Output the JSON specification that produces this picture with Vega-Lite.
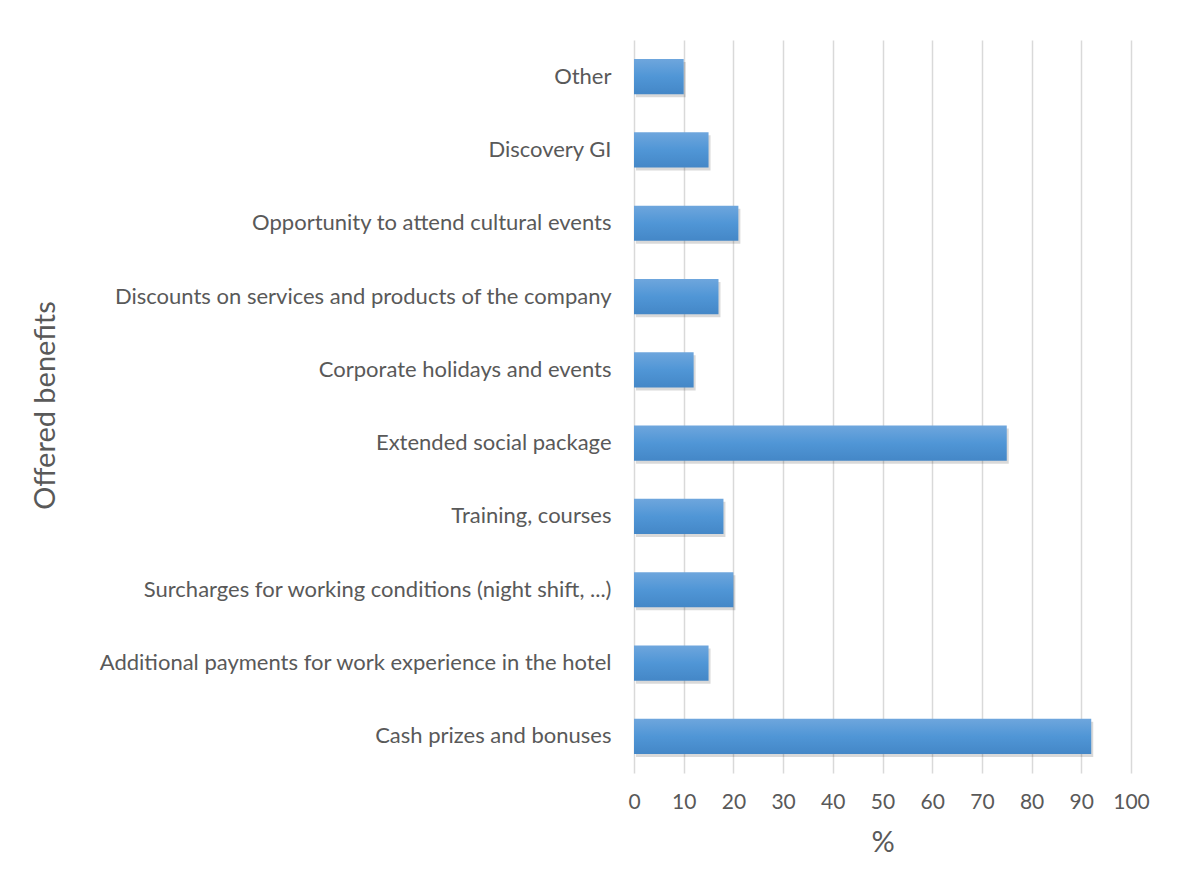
{
  "$schema": "https://vega.github.io/schema/vega-lite/v6.json",
  "width": 497,
  "height": 733,
  "autosize": {"type": "none"},
  "padding": {"left": 634, "top": 40, "right": 46, "bottom": 117},
  "background": "white",
  "config": {
    "view": {"stroke": null},
    "font": "Lato",
    "axis": {"labelColor": "#595959", "titleColor": "#595959", "labelFont": "Lato", "titleFont": "Lato", "titleFontWeight": "normal"}
  },
  "data": {
    "values": [
      {"benefit": "Other", "pct": 10},
      {"benefit": "Discovery GI", "pct": 15},
      {"benefit": "Opportunity to attend cultural events", "pct": 21},
      {"benefit": "Discounts on services and products of the company", "pct": 17},
      {"benefit": "Corporate holidays and events", "pct": 12},
      {"benefit": "Extended social package", "pct": 75},
      {"benefit": "Training, courses", "pct": 18},
      {"benefit": "Surcharges for working conditions (night shift, ...)", "pct": 20},
      {"benefit": "Additional payments for work experience in the hotel", "pct": 15},
      {"benefit": "Cash prizes and bonuses", "pct": 92}
    ]
  },
  "encoding": {
    "y": {
      "field": "benefit", "type": "nominal", "sort": null,
      "scale": {"paddingInner": 0.52, "paddingOuter": 0.26},
      "axis": {
        "title": "Offered benefits", "titleFontSize": 29, "titleAngle": -90,
        "titleX": -589, "titleY": 365, "titleAlign": "center", "titleBaseline": "middle",
        "labelFontSize": 22, "labelPadding": 23, "labelLimit": 700,
        "domain": false, "ticks": false, "grid": false
      }
    },
    "x": {
      "field": "pct", "type": "quantitative",
      "scale": {"domain": [0, 100], "nice": false},
      "axis": {
        "title": "%", "titleFontSize": 29, "titlePadding": 16,
        "labelFontSize": 21, "labelPadding": 18, "labelOverlap": false, "labelFlush": false,
        "values": [0,10,20,30,40,50,60,70,80,90,100],
        "domain": false, "ticks": false, "grid": true, "gridColor": "#d9d9d9", "gridWidth": 1.5
      }
    }
  },
  "layer": [
    {
      "mark": {"type": "bar", "xOffset": 2, "yOffset": 3, "color": "#000000", "opacity": 0.15}
    },
    {
      "mark": {
        "type": "bar",
        "color": {
          "gradient": "linear", "x1": 0, "y1": 0, "x2": 0, "y2": 1,
          "stops": [
            {"offset": 0, "color": "#6ea6dd"},
            {"offset": 0.5, "color": "#5096d6"},
            {"offset": 1, "color": "#4487c7"}
          ]
        }
      }
    }
  ]
}
